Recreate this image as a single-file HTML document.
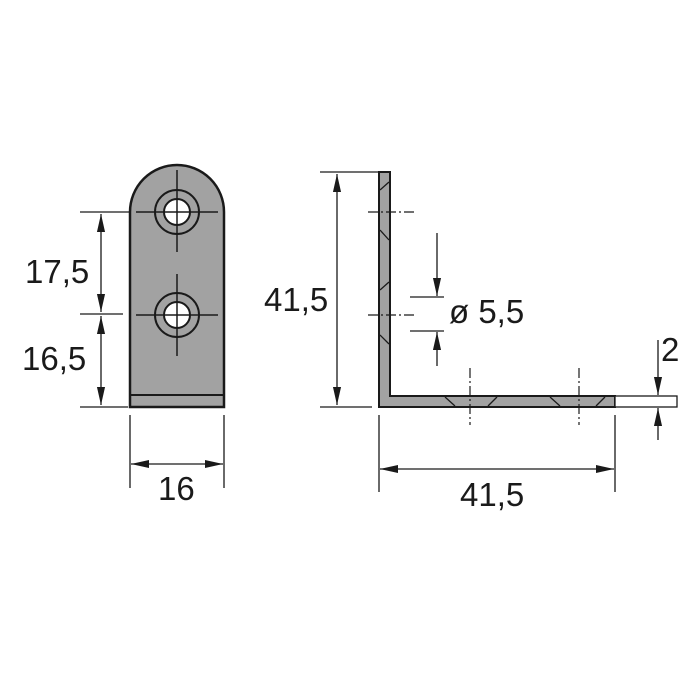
<!DOCTYPE html>
<html><head><style>html,body{margin:0;padding:0;background:#fff}svg{display:block}</style></head><body>
<svg width="700" height="700" viewBox="0 0 700 700" xmlns="http://www.w3.org/2000/svg">
<defs>
<marker id="a" viewBox="0 0 20 10" refX="20" refY="5" markerWidth="20" markerHeight="9" markerUnits="userSpaceOnUse" orient="auto-start-reverse"><path d="M0,0.5 L20,5 L0,9.5 z" fill="#1a1a1a"/></marker>
</defs>
<g stroke="#1a1a1a" fill="none" font-family="Liberation Sans, sans-serif">
<path d="M130,407 L130,212 A47,47 0 0 1 224,212 L224,407 Z" fill="#a2a2a2" stroke-width="2.5"/>
<line x1="130" y1="395" x2="224" y2="395" stroke-width="2"/>
<circle cx="177" cy="212" r="22" fill="#a2a2a2" stroke-width="2"/>
<circle cx="177" cy="212" r="13" fill="#fff" stroke-width="2"/>
<circle cx="177" cy="315" r="22" fill="#a2a2a2" stroke-width="2"/>
<circle cx="177" cy="315" r="13" fill="#fff" stroke-width="2"/>
<g stroke-width="1.5">
<line x1="177" y1="170" x2="177" y2="252"/><line x1="136" y1="212" x2="218" y2="212"/>
<line x1="177" y1="274" x2="177" y2="356"/><line x1="136" y1="315" x2="218" y2="315"/>
</g>
<g stroke-width="1.3">
<line x1="80" y1="212" x2="130" y2="212"/><line x1="80" y1="314" x2="123" y2="314"/><line x1="80" y1="407" x2="128" y2="407"/>
<line x1="101" y1="214" x2="101" y2="312" marker-start="url(#a)" marker-end="url(#a)"/>
<line x1="101" y1="316" x2="101" y2="405" marker-start="url(#a)" marker-end="url(#a)"/>
<line x1="130" y1="415" x2="130" y2="488"/><line x1="224" y1="415" x2="224" y2="488"/>
<line x1="131" y1="464" x2="223" y2="464" marker-start="url(#a)" marker-end="url(#a)"/>
</g>
<path d="M379,172 L390,172 L390,396 L615,396 L615,407 L379,407 Z" fill="#a2a2a2" stroke-width="2"/>
<rect x="615" y="396" width="62" height="11" fill="#fff" stroke-width="1.3"/>
<g stroke-width="1.3">
<line x1="380" y1="190" x2="389" y2="182"/><line x1="380" y1="230" x2="389" y2="240"/>
<line x1="380" y1="290" x2="389" y2="282"/><line x1="380" y1="335" x2="389" y2="344"/>
<line x1="445" y1="397" x2="455" y2="406"/><line x1="488" y1="406" x2="497" y2="397"/>
<line x1="550" y1="397" x2="560" y2="406"/><line x1="596" y1="406" x2="605" y2="397"/>
</g>
<g stroke-width="1.2" stroke-dasharray="10,3,2,3">
<line x1="368" y1="212" x2="416" y2="212"/><line x1="368" y1="315" x2="416" y2="315"/>
<line x1="470" y1="368" x2="470" y2="425"/><line x1="579" y1="368" x2="579" y2="425"/>
</g>
<g stroke-width="1.3">
<line x1="320" y1="172" x2="379" y2="172"/><line x1="320" y1="407" x2="372" y2="407"/>
<line x1="337" y1="174" x2="337" y2="405" marker-start="url(#a)" marker-end="url(#a)"/>
<line x1="410" y1="297" x2="444" y2="297"/><line x1="410" y1="331" x2="444" y2="331"/>
<line x1="437" y1="233" x2="437" y2="296" marker-end="url(#a)"/>
<line x1="437" y1="366" x2="437" y2="332" marker-end="url(#a)"/>
<line x1="658" y1="340" x2="658" y2="395" marker-end="url(#a)"/>
<line x1="658" y1="440" x2="658" y2="408" marker-end="url(#a)"/>
<line x1="379" y1="415" x2="379" y2="492"/><line x1="615" y1="415" x2="615" y2="492"/>
<line x1="380" y1="469" x2="614" y2="469" marker-start="url(#a)" marker-end="url(#a)"/>
</g>
<g fill="#1a1a1a" stroke="none" font-size="33">
<text x="25" y="283">17,5</text>
<text x="22" y="370">16,5</text>
<text x="158" y="500">16</text>
<text x="264" y="311">41,5</text>
<text x="449" y="323">ø 5,5</text>
<text x="661" y="361">2</text>
<text x="460" y="506">41,5</text>
</g>
</g>
</svg>
</body></html>
